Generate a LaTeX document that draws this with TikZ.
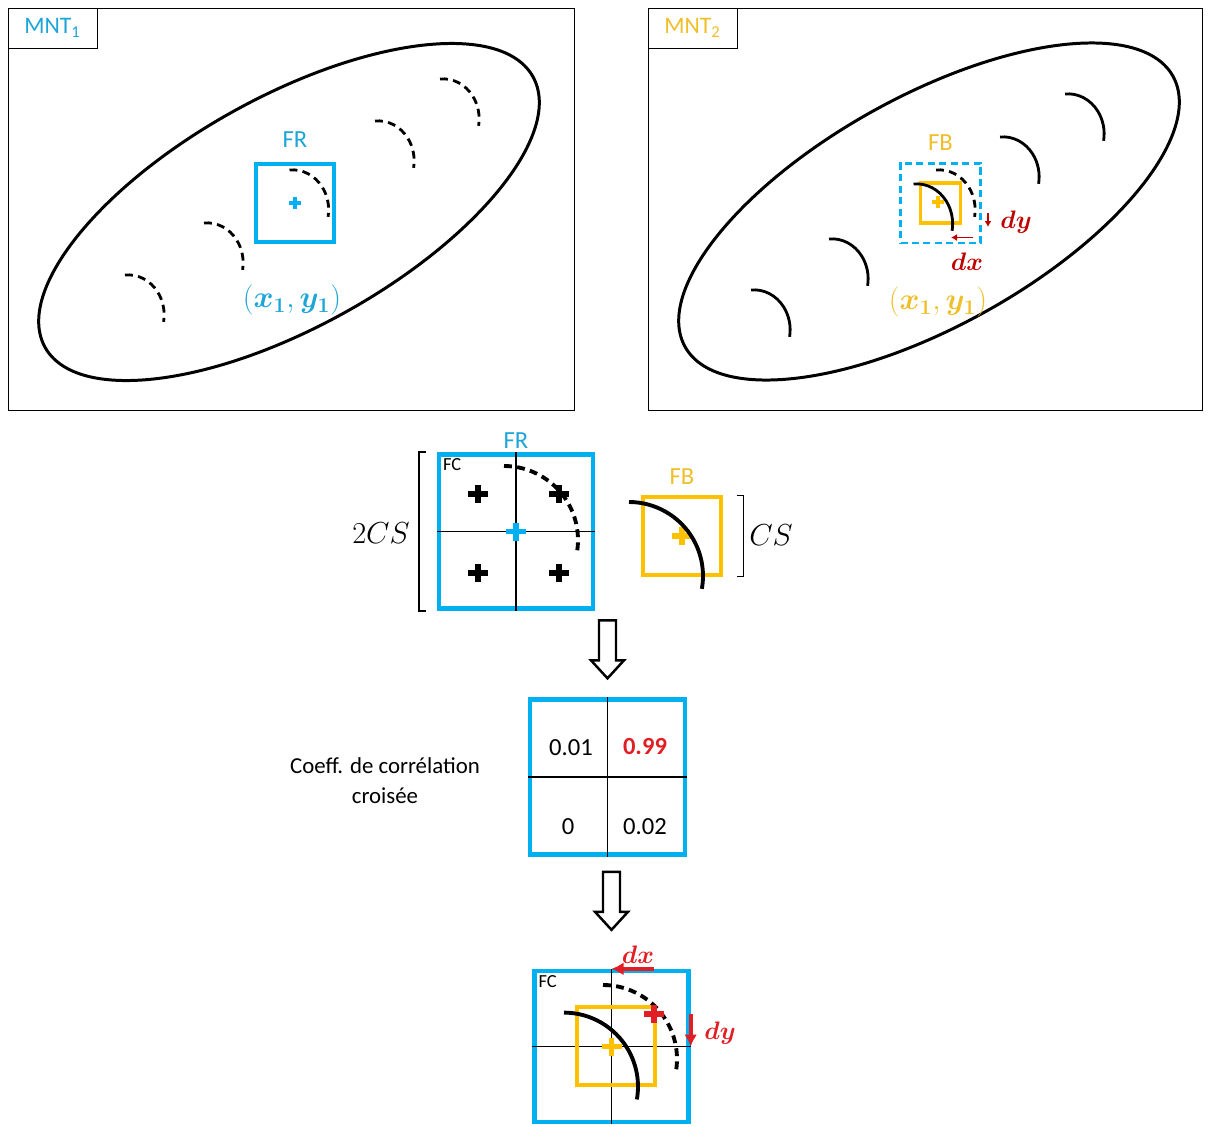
\documentclass[tikz,border=0pt]{standalone}
\usepackage{amsmath}
\usepackage{fontspec}
\setmainfont{Carlito}
\usetikzlibrary{arrows.meta,positioning,calc}
\definecolor{skyblue}{RGB}{0,176,240}
\definecolor{bluetxt}{RGB}{30,165,215}
\definecolor{gold}{RGB}{255,192,0}
\definecolor{goldtxt}{RGB}{240,190,40}
\definecolor{alertred}{RGB}{225,30,35}
\definecolor{darkred}{RGB}{192,0,0}

\begin{document}
\begin{tikzpicture}[x=0.02cm, y=-0.02cm,
    panel/.style={draw, line width=0.6pt, minimum width=11.34cm, minimum height=8.06cm},
    tag/.style={draw, line width=0.6pt, minimum width=1.78cm, minimum height=0.8cm, font=\fontsize{13.5}{16}\selectfont},
    outline/.style={line width=1.7pt},
    ridge/.style={line width=1.6pt},
    brokenline/.style={dash pattern=on 4.5pt off 3pt},
    crest/.style={start angle=95, end angle=-10, x radius=0.72cm, y radius=0.8cm},
    bigcrest/.style={start angle=90, end angle=-10, radius=1.48cm},
    frbox/.style={draw=skyblue, line width=2.2pt},
    fbbox/.style={draw=gold, line width=1.8pt},
    grid/.style={line width=0.6pt},
    brk/.style={line width=1pt},
    lbl/.style={font=\fontsize{14}{16}\selectfont},
    num/.style={font=\fontsize{14}{16}\selectfont},
    small/.style={font=\fontsize{10.5}{12}\selectfont},
    mathtxt/.style={font=\fontsize{14.4}{17}\selectfont},
    bigmath/.style={font=\fontsize{17.28}{20}\selectfont},
    redtxt/.style={text=darkred, font=\fontsize{14.4}{17}\selectfont},
    redarr/.style={-{Latex[length=2.4mm,width=2.6mm]}, line width=2.2pt, alertred},
    thinarr/.style={-{Latex[length=1.2mm,width=1.4mm]}, line width=1pt, darkred},
    plus/.pic={\draw[line width=3.2pt] (-10,0) -- (10,0) (0,-9) -- (0,9);},
    smallplus/.pic={\draw[line width=2.2pt] (-6,0) -- (6,0) (0,-6) -- (0,6);},
    hollow/.pic={\draw[line width=1.4pt, fill=white] (0,0) -- (16.5,-18) -- (8.5,-18) -- (8.5,-58)
      -- (-8.5,-58) -- (-8.5,-18) -- (-16.5,-18) -- cycle;}
  ]
  \useasboundingbox (0,0) rectangle (1210,1126);

  % MNT 1
  \node[panel] (mnt1) at (291.5,209.5) {};
  \node[tag, text=bluetxt, anchor=north west] (tag1) at (mnt1.north west) {MNT\textsubscript{1}};
  \draw[outline, rotate around={29:(289,212)}] (289,212) ellipse [x radius=5.58cm, y radius=2.3cm];
  \foreach \p in {(125,275),(204,223),(375,121),(440,79)}
    \draw[ridge, brokenline] \p arc[crest];
  \node[frbox, minimum size=1.56cm] (fr1) at (295,203) {};
  \node[lbl, text=bluetxt, above=0.16cm of fr1] (fr1lbl) {FR};
  \pic[skyblue] at (fr1.center) {smallplus};
  \draw[ridge, brokenline] (289.5,170) arc[crest];
  \node[bigmath, text=bluetxt] (pos1) at (292,300) {$(\boldsymbol{x_1},\boldsymbol{y_1})$};

  % MNT 2
  \node[panel, minimum width=11.1cm] (mnt2) at (925.5,209.5) {};
  \node[tag, text=goldtxt, anchor=north west] (tag2) at (mnt2.north west) {MNT\textsubscript{2}};
  \draw[outline, rotate around={29:(929,211.5)}] (929,211.5) ellipse [x radius=5.58cm, y radius=2.3cm];
  \foreach \p in {(751,290),(829,239),(1000,137),(1065,94)}
    \draw[ridge] \p arc[crest];
  \node[frbox, line width=1.7pt, dash pattern=on 4pt off 2.5pt, minimum size=1.6cm] (fr3) at (940.5,203) {};
  \node[fbbox, minimum size=0.8cm] (fb1) at (940.5,203) {};
  \node[lbl, text=goldtxt, above=0.1cm of fr3] (fb1lbl) {FB};
  \pic[gold] at (938,202) {smallplus};
  \draw[ridge] (913.5,184) arc[crest];
  \draw[ridge, brokenline] (936,170) arc[crest];
  \draw[thinarr] ([xshift=0.12cm,yshift=-0.2cm]fr3.east) -- ([xshift=0.12cm,yshift=-0.48cm]fr3.east);
  \draw[thinarr] ([xshift=-0.18cm,yshift=0.14cm]fr3.south east) -- ([xshift=-0.62cm,yshift=0.14cm]fr3.south east);
  \node[redtxt] (dy1) at (1016,222) {$\boldsymbol{dy}$};
  \node[redtxt] (dx1) at (967,262) {$\boldsymbol{dx}$};
  \node[bigmath, text=goldtxt] (pos2) at (938,302) {$(\boldsymbol{x_1},\boldsymbol{y_1})$};

  % search window and block
  \node[frbox, line width=2.5pt, minimum size=3.08cm] (fr2) at (516,531.5) {};
  \draw[grid] (fr2.north) -- (fr2.south) (fr2.west) -- (fr2.east);
  \node[lbl, text=bluetxt, above=-0.05cm of fr2] (fr2lbl) {FR};
  \node[small, anchor=north west] (fc2) at (fr2.north west) {FC};
  \foreach \p in {(478,494),(559,494),(478,573),(559,573)}
    \pic at \p {plus};
  \pic[skyblue] at (fr2.center) {plus};
  \draw[ridge, line width=2.2pt, brokenline] (504,466) arc[bigcrest];
  \draw[brk] ([xshift=-0.22cm]fr2.north west) -| ([xshift=-0.36cm]fr2.south west) -- ([xshift=-0.22cm]fr2.south west);
  \node[bigmath] (cs2) at (381,533) {$2CS$};

  \node[fbbox, minimum size=1.56cm] (fb2) at (682,536) {};
  \node[lbl, text=goldtxt, above=0.1cm of fb2] (fb2lbl) {FB};
  \pic[gold] at (fb2.center) {plus};
  \draw[ridge, line width=2.2pt] (629,502) arc[bigcrest];
  \draw[brk] ([xshift=0.28cm]fb2.north east) -| ([xshift=0.42cm]fb2.south east) -- ([xshift=0.28cm]fb2.south east);
  \node[bigmath] (cs1) at (771,535) {$CS$};

  % correlation
  \node[frbox, line width=2.5pt, minimum size=3.1cm] (cc) at (607.5,777) {};
  \draw[grid] (cc.north) -- (cc.south) (cc.west) -- (cc.east);
  \pic at ([yshift=0.38cm]cc.north) {hollow};
  \node[num] (c11) at (571,748) {0.01};
  \node[num, font=\fontsize{14}{16}\selectfont\bfseries, text=alertred] (c12) at (645,747) {0.99};
  \node[num] (c21) at (568,827) {0};
  \node[num] (c22) at (645,827) {0.02};
  \node[lbl, font=\fontsize{13}{17}\selectfont, align=center] (cclbl) at (385,781) {Coeff. de corrélation\\croisée};

  % result
  \node[frbox, line width=2.5pt, minimum width=3.08cm, minimum height=3.02cm] (fin) at (611.5,1046.5) {};
  \draw[grid] (fin.north) -- (fin.south) (fin.west) -- (fin.east);
  \pic at ([yshift=0.78cm]fin.north) {hollow};
  \node[small, anchor=north west] (fc3) at (fin.north west) {FC};
  \node[fbbox, minimum size=1.56cm] (fb3) at (616,1046) {};
  \pic[gold] at (fin.center) {plus};
  \draw[ridge, line width=2.2pt] (564,1012.6) arc[bigcrest];
  \draw[ridge, line width=2.2pt, brokenline] (603,985) arc[bigcrest];
  \coordinate (peak) at (654,1014);
  \pic[alertred] at (peak) {plus};
  \draw[redarr] (fin.north -| peak) -- (fin.north);
  \draw[redarr] (fin.east |- peak) -- (fin.east);
  \node[redtxt, text=alertred] (dx2) at (638,955) {$\boldsymbol{dx}$};
  \node[redtxt, text=alertred] (dy2) at (720,1033) {$\boldsymbol{dy}$};
\end{tikzpicture}
\end{document}
